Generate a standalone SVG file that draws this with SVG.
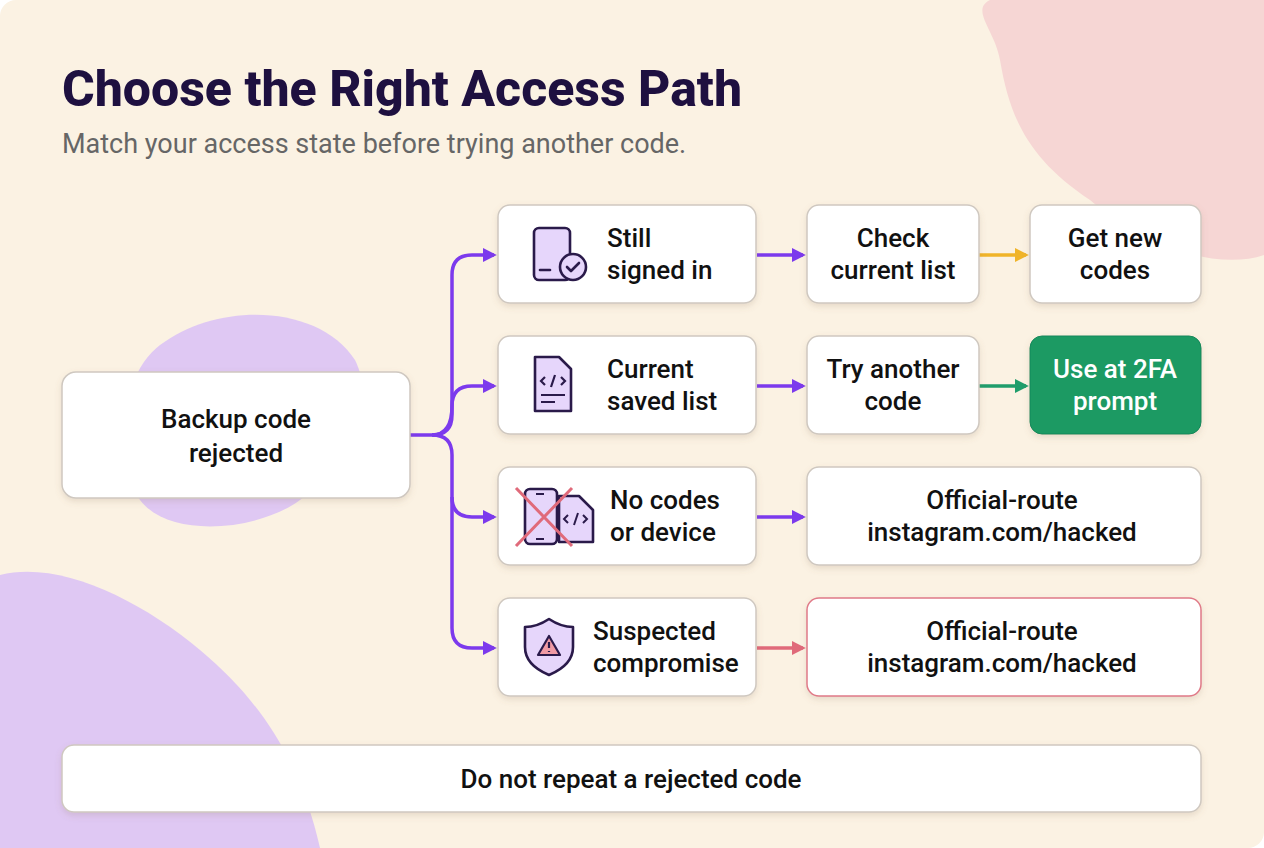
<svg xmlns="http://www.w3.org/2000/svg" width="1264" height="848" viewBox="0 0 1264 848">
<defs>
<style>
.t{font-family:Roboto,"Liberation Sans",sans-serif;fill:#111;font-size:26px;font-weight:500}
.n{fill:#fff;stroke:#cfc8c0;stroke-width:1.5}
.c{fill:none;stroke-width:3.5}
.ic{stroke:#2a1a4a;stroke-width:2.6;fill:#e6d6fb;stroke-linejoin:round;stroke-linecap:round}
</style>
<marker id="ap" viewBox="0 0 10 10" refX="8" refY="5" markerWidth="4" markerHeight="4" orient="auto"><path d="M0,0L10,5L0,10z" fill="#7c3aed"/></marker>
<marker id="ay" viewBox="0 0 10 10" refX="8" refY="5" markerWidth="4" markerHeight="4" orient="auto"><path d="M0,0L10,5L0,10z" fill="#f0b429"/></marker>
<marker id="ag" viewBox="0 0 10 10" refX="8" refY="5" markerWidth="4" markerHeight="4" orient="auto"><path d="M0,0L10,5L0,10z" fill="#1f9d6b"/></marker>
<marker id="ar" viewBox="0 0 10 10" refX="8" refY="5" markerWidth="4" markerHeight="4" orient="auto"><path d="M0,0L10,5L0,10z" fill="#e06a7a"/></marker>
<filter id="sh" x="-10%" y="-10%" width="120%" height="130%"><feDropShadow dx="0" dy="3" stdDeviation="3" flood-color="#8a7050" flood-opacity="0.18"/></filter>
</defs>
<rect width="1264" height="848" rx="16" fill="#fbf2e3"/>
<path d="M990,0 L1264,0 L1264,255 C1220,270 1150,250 1090,200 C1030,160 1010,120 1000,60 C995,30 970,10 990,0z" fill="#f6d6d4"/>
<path d="M0,575 C60,560 140,600 200,650 C260,700 300,760 320,848 L0,848z" fill="#dfc8f3"/>
<path d="M160,345 C220,300 320,305 355,360 C380,410 340,470 300,500 C260,530 170,540 140,500 C110,460 120,375 160,345z" fill="#dfc8f3"/>
<text x="62" y="106" font-family="Roboto,'Liberation Sans',sans-serif" font-size="50" font-weight="800" fill="#1e1040">Choose the Right Access Path</text>
<text x="62" y="153" font-family="Roboto,'Liberation Sans',sans-serif" font-size="27" fill="#666">Match your access state before trying another code.</text>
<g id="connectors">
<path class="c" stroke="#7c3aed" d="M410,435 H432 Q452,435 452,415 V275 Q452,255 472,255 H494" marker-end="url(#ap)"/>
<path class="c" stroke="#7c3aed" d="M432,435 Q452,435 452,406 Q452,386 472,386 H494" marker-end="url(#ap)"/>
<path class="c" stroke="#7c3aed" d="M432,435 Q452,435 452,455 V497 Q452,517 472,517 H494" marker-end="url(#ap)"/>
<path class="c" stroke="#7c3aed" d="M452,497 V628 Q452,648 472,648 H494" marker-end="url(#ap)"/>
<path class="c" stroke="#7c3aed" d="M757,255 H803" marker-end="url(#ap)"/>
<path class="c" stroke="#f0b429" d="M979,255 H1026" marker-end="url(#ay)"/>
<path class="c" stroke="#7c3aed" d="M757,386 H803" marker-end="url(#ap)"/>
<path class="c" stroke="#1f9d6b" d="M979,386 H1026" marker-end="url(#ag)"/>
<path class="c" stroke="#7c3aed" d="M757,517 H803" marker-end="url(#ap)"/>
<path class="c" stroke="#e06a7a" d="M757,648 H803" marker-end="url(#ar)"/>
</g>
<g id="backup"><rect class="n" filter="url(#sh)" x="62" y="372" width="348" height="126" rx="14"/><text class="t" text-anchor="middle" x="236" y="428">Backup code</text><text class="t" text-anchor="middle" x="236" y="462">rejected</text></g>
<g id="signed"><rect class="n" filter="url(#sh)" x="498" y="205" width="258" height="98" rx="12"/>
<rect class="ic" x="534" y="228" width="36" height="52" rx="5"/><line class="ic" x1="540" y1="270" x2="550" y2="270"/><circle class="ic" cx="573" cy="267" r="13"/><path class="ic" fill="none" d="M567,267 l4,4 l8,-8"/>
<text class="t" x="607" y="247">Still</text><text class="t" x="607" y="279">signed in</text></g>
<g id="saved"><rect class="n" filter="url(#sh)" x="498" y="336" width="258" height="98" rx="12"/>
<path class="ic" d="M535,357 h24 l12,12 v42 h-36z"/><path fill="none" stroke="#2a1a4a" stroke-width="2.2" d="M545,377 l-4,4 l4,4 M561,377 l4,4 l-4,4 M555,375 l-4,12 M541,395 h24 M541,402 h14"/>
<text class="t" x="607" y="378">Current</text><text class="t" x="607" y="410">saved list</text></g>
<g id="nocodes"><rect class="n" filter="url(#sh)" x="498" y="467" width="258" height="98" rx="12"/>
<rect class="ic" x="525" y="489" width="32" height="55" rx="5"/><path class="ic" d="M559,496 h20 l14,14 v32 h-34z"/><path fill="none" stroke="#2a1a4a" stroke-width="2" d="M568,515 l-4,4 l4,4 M583,515 l4,4 l-4,4 M578,513 l-4,12 M536,494 h8 M536,539 h8"/><path stroke="#e06a7a" stroke-width="3" d="M516,488 L572,546 M572,488 L516,546"/>
<text class="t" x="610" y="509">No codes</text><text class="t" x="610" y="541">or device</text></g>
<g id="suspect"><rect class="n" filter="url(#sh)" x="498" y="598" width="258" height="98" rx="12"/>
<path class="ic" fill="#f7d0d4" d="M549,619 q12,8 24,8 v20 q0,18 -24,28 q-24,-10 -24,-28 v-20 q12,0 24,-8z"/><path fill="#f09aa4" stroke="#2a1a4a" stroke-width="2.2" stroke-linejoin="round" d="M549,636 l11,19 h-22z"/><path stroke="#2a1a4a" stroke-width="2.2" d="M549,642 v6 M549,651 v1"/>
<text class="t" x="593" y="640">Suspected</text><text class="t" x="593" y="672">compromise</text></g>
<g id="check"><rect class="n" filter="url(#sh)" x="807" y="205" width="172" height="98" rx="12"/><text class="t" text-anchor="middle" x="893" y="247">Check</text><text class="t" text-anchor="middle" x="893" y="279">current list</text></g>
<g id="getnew"><rect class="n" filter="url(#sh)" x="1030" y="205" width="171" height="98" rx="12"/><text class="t" text-anchor="middle" x="1115" y="247">Get new</text><text class="t" text-anchor="middle" x="1115" y="279">codes</text></g>
<g id="tryanother"><rect class="n" filter="url(#sh)" x="807" y="336" width="172" height="98" rx="12"/><text class="t" text-anchor="middle" x="893" y="378">Try another</text><text class="t" text-anchor="middle" x="893" y="410">code</text></g>
<g id="use2fa"><rect filter="url(#sh)" x="1030" y="336" width="171" height="98" rx="12" fill="#1a9a63" stroke="#15875a"/><text class="t" text-anchor="middle" x="1115" y="378" style="fill:#fff">Use at 2FA</text><text class="t" text-anchor="middle" x="1115" y="410" style="fill:#fff">prompt</text></g>
<g id="official1"><rect class="n" filter="url(#sh)" x="807" y="467" width="394" height="98" rx="12"/><text class="t" text-anchor="middle" x="1002" y="509">Official-route</text><text class="t" text-anchor="middle" x="1002" y="541">instagram.com/hacked</text></g>
<g id="official2"><rect class="n" filter="url(#sh)" x="807" y="598" width="394" height="98" rx="12" style="stroke:#e07a88"/><text class="t" text-anchor="middle" x="1002" y="640">Official-route</text><text class="t" text-anchor="middle" x="1002" y="672">instagram.com/hacked</text></g>
<g id="footer"><rect class="n" filter="url(#sh)" x="62" y="745" width="1139" height="67" rx="12"/><text class="t" text-anchor="middle" x="631" y="788">Do not repeat a rejected code</text></g>
</svg>
